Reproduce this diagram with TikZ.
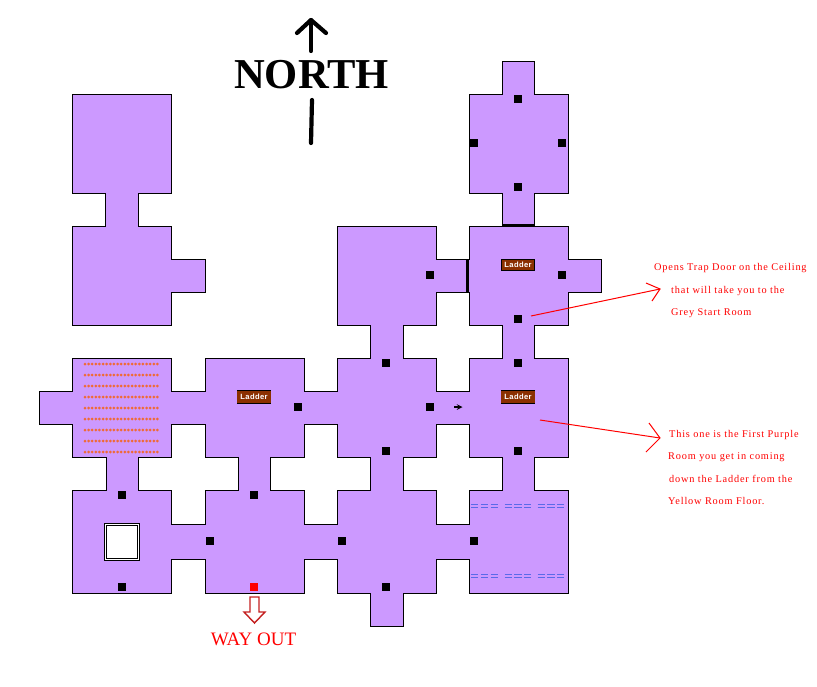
\documentclass[tikz,border=0pt]{standalone}
\usepackage{fontspec}
\setmainfont{Liberation Serif}
\newfontfamily\laddersans{Liberation Sans}
\usepackage{tikz}
\usetikzlibrary{positioning}
\definecolor{roompurple}{HTML}{CC99FF}
\definecolor{ladderbrown}{HTML}{8B3000}
\definecolor{lavaorange}{HTML}{F06A35}
\definecolor{waterblue}{HTML}{5A6AE8}
\definecolor{outred}{HTML}{C42020}
\tikzset{room/.style = {draw=black, fill=roompurple, line width=0.9pt, even odd rule, line join=miter},
         wall/.style = {draw=black, line width=3pt},
         marker/.style = {fill=black, minimum size=8pt, inner sep=0pt},
         ladder/.style = {fill=ladderbrown, text=white, minimum width=34pt, minimum height=12pt,
                          inner sep=0pt, font=\laddersans\bfseries\fontsize{7.6}{8}\selectfont\addfontfeature{LetterSpace=5}},
         lava/.style = {draw=lavaorange, line width=3pt, line cap=round, dash pattern=on 0pt off 3.62pt},
         water/.style = {draw=waterblue, line width=1.4pt, dash pattern=on 7.2pt off 2.6pt},
         note/.style = {text=red, anchor=west, inner sep=0pt,
                        font=\fontsize{10.3}{12}\selectfont\addfontfeature{LetterSpace=8}},
         pointer/.style = {draw=red, line width=1pt},
         northline/.style = {draw=black, line width=4.2pt, line cap=round, line join=round}}

\begin{document}
\begin{tikzpicture}[x=1pt, y=-1pt]
    \useasboundingbox (0, 0) rectangle (817, 686);

    \path [room] (39, 391) -- (72, 391) -- (72, 358) -- (171, 358) -- (171, 391) -- (205, 391)
        -- (205, 358) -- (304, 358) -- (304, 391) -- (337, 391) -- (337, 358) -- (370, 358)
        -- (370, 325) -- (337, 325) -- (337, 226) -- (436, 226) -- (436, 259) -- (469, 259)
        -- (469, 226) -- (502, 226) -- (502, 193) -- (469, 193) -- (469, 94) -- (502, 94)
        -- (502, 61) -- (534, 61) -- (534, 94) -- (568, 94) -- (568, 193) -- (534, 193)
        -- (534, 226) -- (568, 226) -- (568, 259) -- (601, 259) -- (601, 292) -- (568, 292)
        -- (568, 325) -- (534, 325) -- (534, 358) -- (568, 358) -- (568, 457) -- (534, 457)
        -- (534, 490) -- (568, 490) -- (568, 593) -- (469, 593) -- (469, 559) -- (436, 559)
        -- (436, 593) -- (403, 593) -- (403, 626) -- (370, 626) -- (370, 593) -- (337, 593)
        -- (337, 559) -- (304, 559) -- (304, 593) -- (205, 593) -- (205, 559) -- (171, 559)
        -- (171, 593) -- (72, 593) -- (72, 490) -- (106, 490) -- (106, 457) -- (72, 457)
        -- (72, 424) -- (39, 424) -- cycle
        (171, 424) -- (205, 424) -- (205, 457) -- (238, 457) -- (238, 490) -- (205, 490)
        -- (205, 524) -- (171, 524) -- (171, 490) -- (138, 490) -- (138, 457) -- (171, 457) -- cycle
        (304, 424) -- (337, 424) -- (337, 457) -- (370, 457) -- (370, 490) -- (337, 490)
        -- (337, 524) -- (304, 524) -- (304, 490) -- (270, 490) -- (270, 457) -- (304, 457) -- cycle
        (436, 424) -- (469, 424) -- (469, 457) -- (502, 457) -- (502, 490) -- (469, 490)
        -- (469, 524) -- (436, 524) -- (436, 490) -- (403, 490) -- (403, 457) -- (436, 457) -- cycle
        (436, 292) -- (469, 292) -- (469, 325) -- (502, 325) -- (502, 358) -- (469, 358)
        -- (469, 391) -- (436, 391) -- (436, 358) -- (403, 358) -- (403, 325) -- (436, 325) -- cycle;

    \path [room] (72, 94) -- (171, 94) -- (171, 193) -- (138, 193) -- (138, 226) -- (171, 226)
        -- (171, 259) -- (205, 259) -- (205, 292) -- (171, 292) -- (171, 325) -- (72, 325)
        -- (72, 226) -- (105, 226) -- (105, 193) -- (72, 193) -- cycle;

    \draw [wall] (502, 225) -- (534, 225);
    \draw [wall] (467.5, 259) -- (467.5, 292);

    \foreach \y in {364, 375, ..., 452}
        \draw [lava] (85, \y) -- (160.5, \y);

    \foreach \y in {506, 576}
        \foreach \xa in {471, 504.5, 537.5} {
            \draw [water] (\xa, \y - 1.5) -- (\xa + 28, \y - 1.5);
            \draw [water] (\xa, \y + 1.5) -- (\xa + 28, \y + 1.5);
        }

    \draw [fill=white, line width=0.9pt] (104.5, 523.5) rectangle (139.5, 560.5);
    \draw [fill=white, line width=0.9pt] (106.5, 525.5) rectangle (137.5, 558.5);

    \foreach \name/\x/\y in {a/518/99, b/474/143, c/562/143, d/518/187, e/430/275, f/562/275,
                             g/518/319, h/386/363, i/518/363, j/298/407, k/430/407, l/386/451,
                             m/518/451, n/122/495, o/254/495, p/210/541, q/342/541, r/474/541,
                             s/122/587, t/386/587}
        \node [marker] (mark\name) at (\x, \y) {};
    \node [marker, fill=red] (markout) at (254, 587) {};

    \node [ladder] (ladderwest) at (254, 397) {Ladder};
    \node [ladder, draw=black, line width=0.8pt, minimum width=33pt, minimum height=11pt] (ladderup) at (518, 265) {Ladder};
    \node [ladder] (ladderdown) at (518, 397) {Ladder};
    \foreach \l in {ladderwest, ladderdown} {
        \draw [line width=0.8pt] (\l.north west) -- (\l.north east);
        \draw [line width=0.8pt] (\l.south west) -- (\l.south east);
    }

    \coordinate (doorfrom) at (454, 407);
    \coordinate (doorto) at (462.5, 407);
    \draw [-stealth, line width=1.5pt] (doorfrom) -- (doorto);

    \node [font=\bfseries\fontsize{42.6}{44}\selectfont, inner sep=0pt] (north) at (311.5, 75) {NORTH};
    \coordinate (arrowtop) at (311, 20);
    \coordinate (arrowbase) at (311, 51);
    \draw [northline] (arrowbase) -- (arrowtop);
    \draw [northline] (297, 33) -- (arrowtop) -- (326, 33);
    \coordinate (tailtop) at (312, 100);
    \coordinate (tailbase) at (311, 143);
    \draw [northline] (tailtop) -- (tailbase);

    \draw [outred, fill=white, line width=1.4pt] (250, 597) -- (259, 597) -- (259, 612) -- (265, 612)
        -- (254.5, 623) -- (244, 612) -- (250, 612) -- cycle;
    \node [text=red, font=\fontsize{19}{20}\selectfont, inner sep=0pt] (wayout) at (253.5, 639) {WAY OUT};

    \node [note] (trapone) at (654, 268) {Opens Trap Door on the Ceiling};
    \node [note] (traptwo) at (671, 291) {that will take you to the};
    \node [note] (trapthree) at (671, 313) {Grey Start Room};
    \node [note] (firstone) at (669, 435) {This one is the First Purple};
    \node [note] (firsttwo) at (668, 457) {Room you get in coming};
    \node [note] (firstthree) at (669, 479) {down the Ladder from the};
    \node [note] (firstfour) at (668, 501) {Yellow Room Floor.};

    \coordinate (trapfrom) at (531, 316);
    \coordinate (traptip) at (660, 289);
    \coordinate (firstfrom) at (540, 420);
    \coordinate (firsttip) at (660, 438);
    \draw [pointer] (trapfrom) -- (traptip);
    \draw [pointer] (646, 283) -- (traptip) -- (652, 301);
    \draw [pointer] (firstfrom) -- (firsttip);
    \draw [pointer] (649, 423) -- (firsttip) -- (646, 452);
\end{tikzpicture}
\end{document}
